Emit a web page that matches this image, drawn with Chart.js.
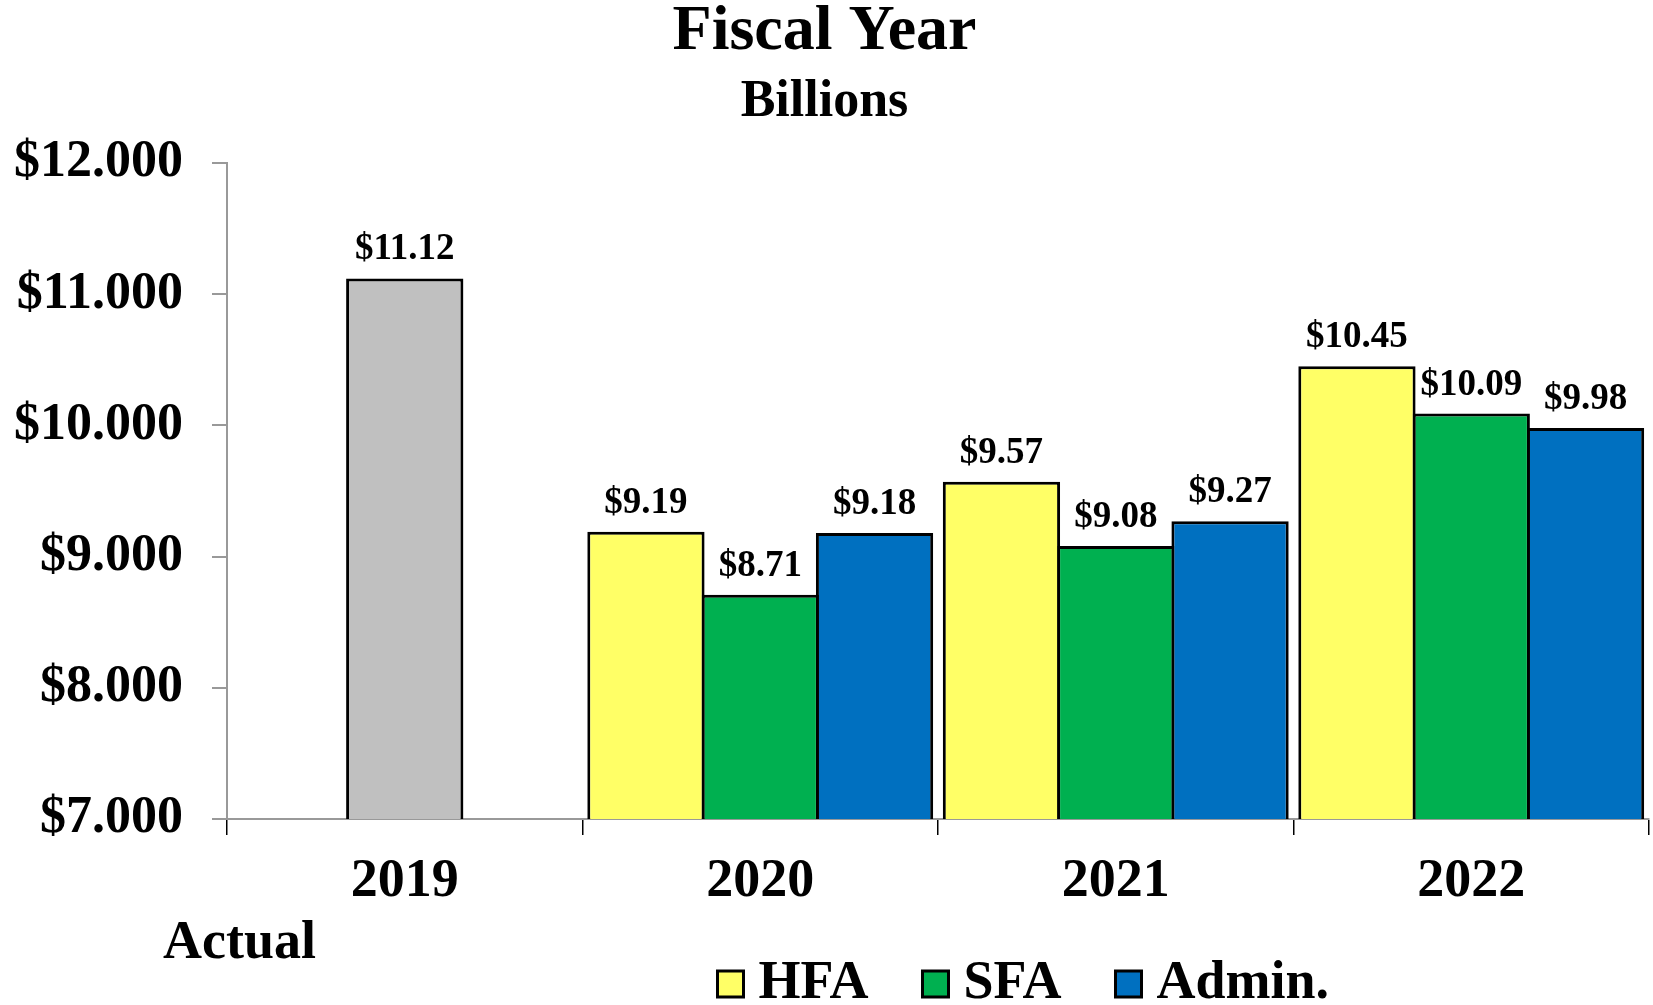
<!DOCTYPE html>
<html>
<head>
<meta charset="utf-8">
<script src="https://cdn.jsdelivr.net/npm/chart.js@4.4.0/dist/chart.umd.min.js"></script>
<style>
  html, body { margin: 0; padding: 0; background: #ffffff; }
  canvas { display: block; }
</style>
</head>
<body>
<canvas id="chart" width="1653" height="1005"></canvas>
<script>
// ---- data ----
const categories = ['2019', '2020', '2021', '2022'];
const actualValues = [11.12, null, null, null];
const hfaValues = [null, 9.19, 9.57, 10.45];
const sfaValues = [null, 8.71, 9.08, 10.09];
const adminValues = [null, 9.18, 9.27, 9.98];
const seriesLabels = ['Actual', 'HFA', 'SFA', 'Admin.'];
const yMin = 7;
const yMax = 12;
const yStep = 1;
const titleText = 'Fiscal Year';
const subtitleText = 'Billions';
const noteText = 'Actual';

const FONT = '"Liberation Serif", "Times New Roman", serif';
Chart.defaults.font.family = FONT;
Chart.defaults.color = '#000';

// value labels above bars
const valueLabels = {
  id: 'valueLabels',
  afterDatasetsDraw(chart) {
    const ctx = chart.ctx;
    ctx.save();
    ctx.font = 'bold 37px ' + FONT;
    ctx.fillStyle = '#000';
    ctx.textAlign = 'center';
    ctx.textBaseline = 'alphabetic';
    chart.data.datasets.forEach((ds, i) => {
      const meta = chart.getDatasetMeta(i);
      meta.data.forEach((bar, j) => {
        const v = ds.data[j];
        if (v === null || v === undefined) return;
        ctx.fillText('$' + v.toFixed(2), bar.x, bar.y - 19);
      });
    });
    ctx.restore();
  }
};

// "Actual" note under the axis
const noteLabel = {
  id: 'noteLabel',
  afterDraw(chart) {
    const { ctx, chartArea } = chart;
    ctx.save();
    ctx.font = 'bold 54px ' + FONT;
    ctx.fillStyle = '#000';
    ctx.textAlign = 'left';
    ctx.textBaseline = 'alphabetic';
    ctx.fillText(noteText, chartArea.left - 64, chartArea.bottom + 139);
    ctx.restore();
  }
};

// place the legend block like the original (right of centre, near the bottom edge)
const legendShift = {
  id: 'legendShift',
  afterLayout(chart) {
    const lg = chart.legend;
    if (!lg || !lg.lineWidths) return;
    const p = lg.options.labels.padding;
    const half = lg.options.labels.font.size / 2;
    const cur = (lg.left + p + lg.right - lg.lineWidths[0]) / 2;
    const dx = 729.5 - cur;
    lg.left += dx;
    lg.right += dx;
    lg.top = chart.chartArea.bottom + 165 - p - half;
  }
};

const barCommon = {
  borderColor: '#000000',
  borderWidth: 3,
  borderSkipped: false,
  categoryPercentage: 0.9646,
  barPercentage: 1.026,
  maxBarThickness: 117.3,
  skipNull: true
};

new Chart(document.getElementById('chart'), {
  type: 'bar',
  data: {
    labels: categories,
    datasets: [
      Object.assign({ label: seriesLabels[0], data: actualValues, backgroundColor: '#C0C0C0' }, barCommon),
      Object.assign({ label: seriesLabels[1], data: hfaValues, backgroundColor: '#FFFF66' }, barCommon),
      Object.assign({ label: seriesLabels[2], data: sfaValues, backgroundColor: '#00B050' }, barCommon),
      Object.assign({ label: seriesLabels[3], data: adminValues, backgroundColor: '#0070C0' }, barCommon)
    ]
  },
  options: {
    responsive: false,
    devicePixelRatio: 1,
    animation: false,
    layout: { padding: { top: 0, left: 0, right: 4, bottom: 0 } },
    scales: {
      x: {
        ticks: { padding: 15, color: '#000', font: { size: 54, weight: 'bold' } },
        grid: { offset: true, drawOnChartArea: false, drawTicks: true, tickLength: 16, color: '#000', lineWidth: 1.5 },
        border: { color: '#999999', width: 2 },
        afterFit(s) { s.height = 95; }
      },
      y: {
        min: yMin,
        max: yMax,
        ticks: {
          stepSize: yStep,
          padding: 29,
          color: '#000',
          font: { size: 52, weight: 'bold' },
          callback: v => '$' + Number(v).toFixed(3)
        },
        grid: { drawOnChartArea: false, drawTicks: true, tickLength: 15, color: '#999999', lineWidth: 2 },
        border: { color: '#999999', width: 2 },
        afterFit(s) { s.width = 227; }
      }
    },
    plugins: {
      title: {
        display: true, text: titleText, color: '#000',
        font: { size: 64, weight: 'bold', lineHeight: 1 },
        padding: { top: 0, bottom: 0 }
      },
      subtitle: {
        display: true, text: subtitleText, color: '#000',
        font: { size: 52, weight: 'bold', lineHeight: 1 },
        padding: { top: 13, bottom: 34 }
      },
      legend: {
        position: 'bottom',
        maxHeight: 91,
        labels: {
          usePointStyle: true,
          pointStyle: 'rect',
          boxWidth: 2,
          boxHeight: 26,
          padding: 66,
          color: '#000',
          font: { size: 54, weight: 'bold' },
          filter: item => item.text !== noteText
        }
      },
      tooltip: { enabled: false }
    }
  },
  plugins: [valueLabels, noteLabel, legendShift]
});
</script>
</body>
</html>
